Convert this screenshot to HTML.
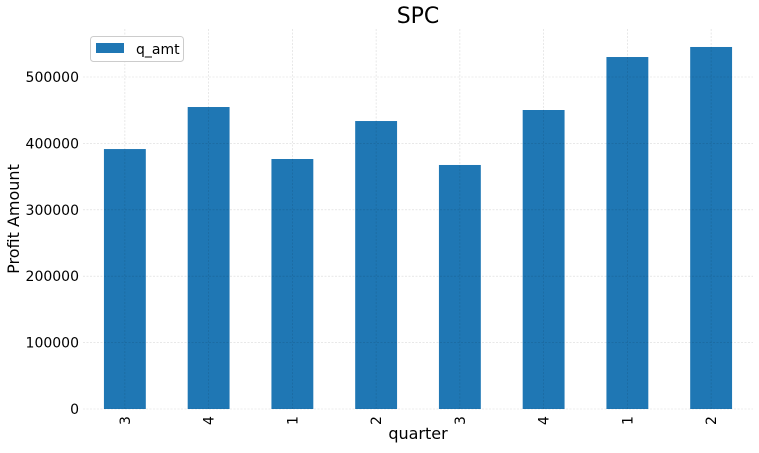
<!DOCTYPE html>
<html><head><meta charset="utf-8"><style>
body{margin:0;background:#fff;}
svg text{font-family:"DejaVu Sans","Liberation Sans",sans-serif;}
</style></head><body>
<svg id="chart" width="759" height="448">
<g id="bars"></g><g id="grid2"></g><g id="axes"></g>
<text x="418" y="23" font-size="22" text-anchor="middle" fill="#000">SPC</text>
<text x="418" y="439" font-size="16" text-anchor="middle" fill="#000">quarter</text>
<text transform="translate(19,219) rotate(-90)" font-size="16" text-anchor="middle" fill="#000">Profit Amount</text>
<g>
<rect x="90.5" y="36.5" width="93" height="25" rx="3" fill="#fff" stroke="#ccc"/>
<rect x="96" y="43" width="28" height="10" fill="#1f77b4"/>
<text x="136" y="54" font-size="14" fill="#000">q_amt</text>
</g>
</svg>
<script>
const categories=["3","4","1","2","3","4","1","2"];
const values=[391500,454800,376500,433700,367500,450300,530100,545200];
const yTicks=[0,100000,200000,300000,400000,500000];
const ns="http://www.w3.org/2000/svg";
const plotLeft=83,plotRight=753,plotTop=29,y0=409,pxPer=66.4/100000;
const step=(plotRight-plotLeft)/categories.length;
function xS(i){return plotLeft+step*(i+0.5);}
function yS(v){return y0-v*pxPer;}
function mk(t,a,p){const e=document.createElementNS(ns,t);for(const k in a)e.setAttribute(k,a[k]);p.appendChild(e);return e;}
const bars=document.getElementById('bars'),g2=document.getElementById('grid2'),axes=document.getElementById('axes');
yTicks.forEach(v=>{
 const l=mk('line',{x1:plotLeft,x2:plotRight,y1:yS(v),y2:yS(v),stroke:'#000','stroke-opacity':0.15,'stroke-dasharray':'2,1.5','stroke-width':0.6},g2);
 
 
 const t=mk('text',{x:plotLeft-4,y:yS(v)+5,'font-size':14,'text-anchor':'end',fill:'#000'},axes);
 t.textContent=v;
 
 
});
categories.forEach((c,i)=>{
 const x=xS(i),w=step*0.5;
 const r=mk('rect',{x:x-w/2,y:yS(values[i]),width:w,height:y0-yS(values[i]),fill:'#1f77b4'},bars);
 
 
 const l=mk('line',{x1:x,x2:x,y1:plotTop,y2:y0,stroke:'#000','stroke-opacity':0.15,'stroke-dasharray':'2,1.5','stroke-width':0.6},g2);
 
 
 const t=mk('text',{transform:`translate(${x+5},${y0+16}) rotate(-90)`,'font-size':14,'text-anchor':'start',fill:'#000'},axes);
 t.textContent=c;
 
 
});
</script>
</body></html>
